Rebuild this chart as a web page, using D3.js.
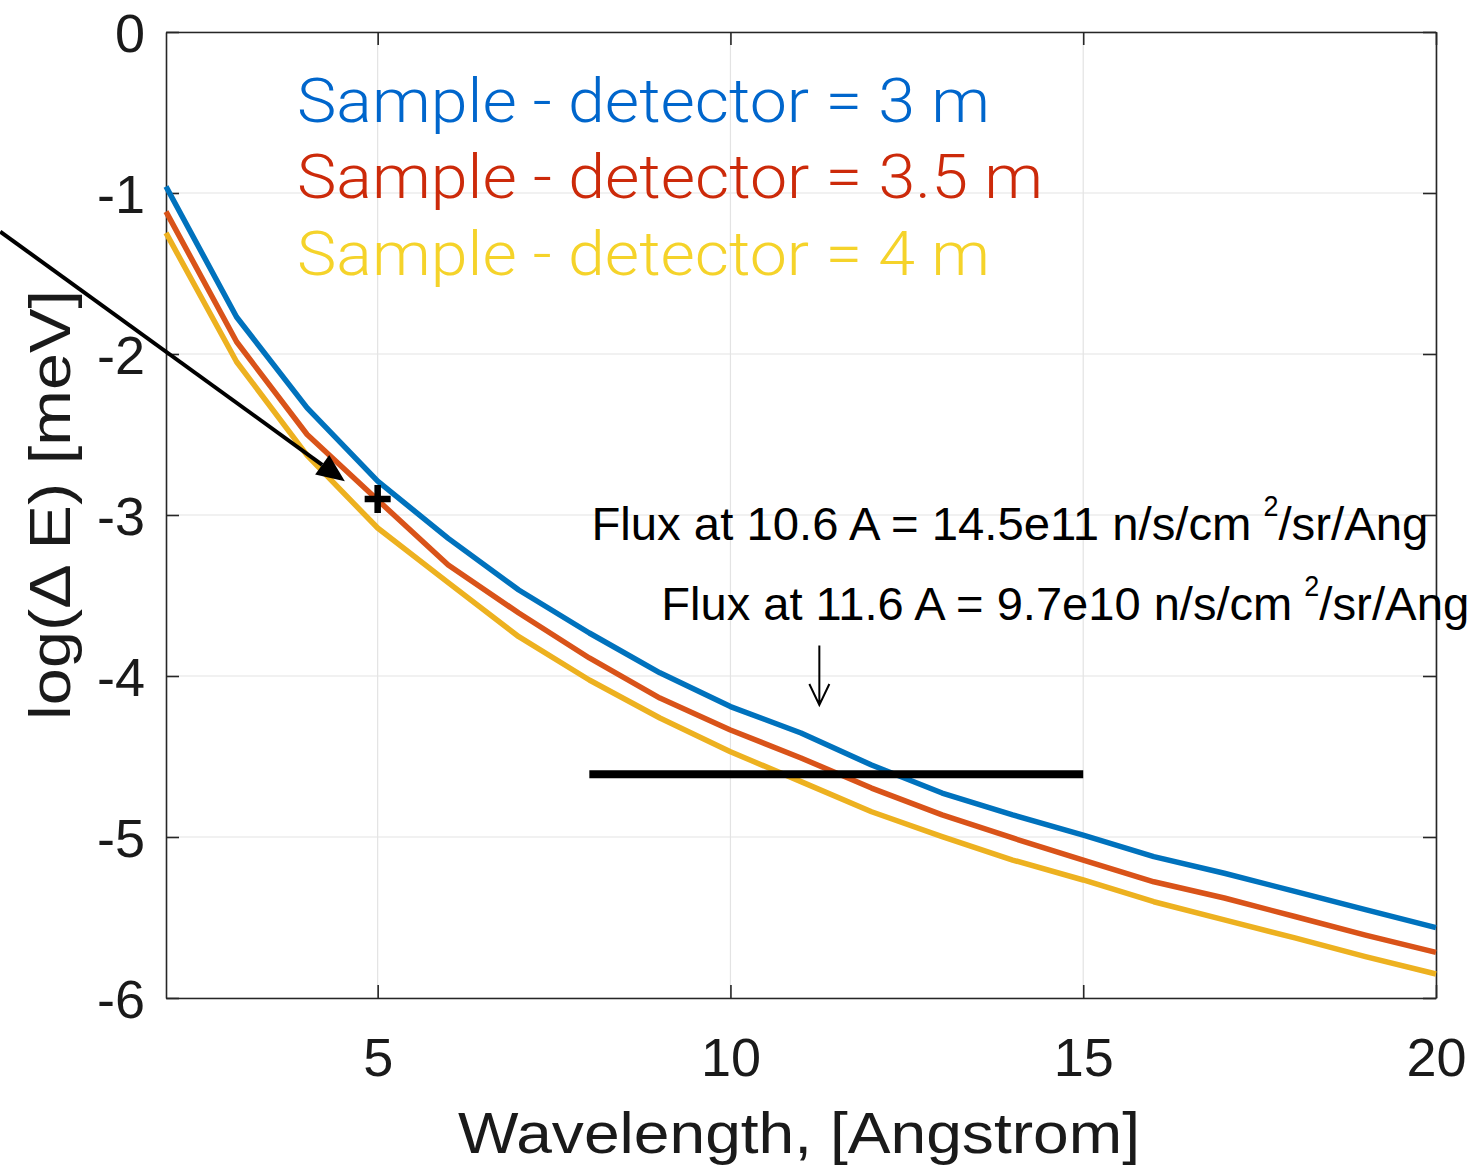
<!DOCTYPE html>
<html>
<head>
<meta charset="utf-8">
<script src="https://d3js.org/d3.v7.min.js"></script>
<style>
  html, body { margin: 0; padding: 0; background: #fff; }
  svg text { font-family: "Liberation Sans", Arial, sans-serif; }
</style>
</head>
<body>
<div id="chart"></div>
<script>
// wavelength (Angstrom)
const wavelengths = [2, 3, 4, 5, 6, 7, 8, 9, 10, 11, 12, 13, 14, 15, 16, 17, 18, 19, 20];
// log(dE) for each sample-detector distance
const dE3m = [-0.96, -1.77, -2.335, -2.79, -3.145, -3.466, -3.733, -3.98, -4.19, -4.354, -4.553, -4.727, -4.863, -4.988, -5.122, -5.225, -5.338, -5.451, -5.563];
const dE35m = [-1.116, -1.924, -2.50, -2.907, -3.31, -3.609, -3.888, -4.137, -4.335, -4.509, -4.696, -4.863, -5.006, -5.143, -5.278, -5.379, -5.494, -5.610, -5.717];
const dE4m = [-1.248, -2.048, -2.63, -3.081, -3.42, -3.756, -4.025, -4.261, -4.47, -4.656, -4.843, -4.998, -5.143, -5.267, -5.402, -5.515, -5.627, -5.743, -5.851];

const seriesNames = ['Sample - detector = 3 m', 'Sample - detector = 3.5 m', 'Sample - detector = 4 m'];
const xTicks = [5, 10, 15, 20];
const yTicks = [0, -1, -2, -3, -4, -5, -6];

// annotations in data units
const barX = [8, 15];
const barY = -4.61;
const plusPoint = [5, -2.9];
const arrowFrom = [-0.35, -1.24];
const arrowTo = [4.535, -2.79];
const downArrowX = 11.26;
const downArrowY = [-3.81, -4.18];

const width = 1479, height = 1168;
const margin = { left: 166, right: 43, top: 32, bottom: 170 };

const svg = d3.select('#chart').append('svg')
  .attr('width', width)
  .attr('height', height);

const x = d3.scaleLinear().domain([2, 20]).range([margin.left, width - margin.right]);
const y = d3.scaleLinear().domain([-6, 0]).range([height - margin.bottom, margin.top]);

const lineColors = ['#0072BD', '#D95319', '#EDB120'];
const textColors = ['#0066CC', '#CC2A0A', '#F5D32A'];

// Grid
svg.append('g')
  .selectAll('line.gx')
  .data(xTicks)
  .enter().append('line')
  .attr('x1', d => x(d)).attr('x2', d => x(d))
  .attr('y1', y(0)).attr('y2', y(-6))
  .attr('stroke', '#e3e3e3').attr('stroke-width', 1.2);

svg.append('g')
  .selectAll('line.gy')
  .data(yTicks)
  .enter().append('line')
  .attr('x1', x(2)).attr('x2', x(20))
  .attr('y1', d => y(d)).attr('y2', d => y(d))
  .attr('stroke', '#e3e3e3').attr('stroke-width', 1.2);

// Axes (ticks inside, box all round)
const tickLen = 13;
const axColor = '#262626';
const fmt = d => String(d);

const axBottom = svg.append('g')
  .attr('transform', `translate(0,${y(-6)})`)
  .call(d3.axisBottom(x).tickValues(xTicks).tickFormat(fmt).tickSizeInner(-tickLen).tickSizeOuter(0).tickPadding(40));
const axTop = svg.append('g')
  .attr('transform', `translate(0,${y(0)})`)
  .call(d3.axisTop(x).tickValues(xTicks).tickSizeInner(-tickLen).tickSizeOuter(0).tickFormat(''));
const axLeft = svg.append('g')
  .attr('transform', `translate(${x(2)},0)`)
  .call(d3.axisLeft(y).tickValues(yTicks).tickFormat(fmt).tickSizeInner(-tickLen).tickSizeOuter(0).tickPadding(21));
const axRight = svg.append('g')
  .attr('transform', `translate(${x(20)},0)`)
  .call(d3.axisRight(y).tickValues(yTicks).tickSizeInner(-tickLen).tickSizeOuter(0).tickFormat(''));

[axBottom, axTop, axLeft, axRight].forEach(g => {
  g.select('.domain').attr('stroke', axColor).attr('stroke-width', 1.6);
  g.selectAll('.tick line').attr('stroke', axColor).attr('stroke-width', 1.6);
  g.selectAll('.tick text')
    .attr('fill', '#1a1a1a')
    .style('font-family', '"Liberation Sans", Arial, sans-serif')
    .style('font-size', '54px');
});
axBottom.selectAll('.tick text').attr('dy', '0.71em');
axLeft.selectAll('.tick text').attr('dy', '0.36em');

// Curves
const allSeries = [dE3m, dE35m, dE4m];
const line = d3.line().x((d, i) => x(wavelengths[i])).y(d => y(d));

svg.append('g')
  .selectAll('path.curve')
  .data(allSeries)
  .enter().append('path')
  .attr('d', d => line(d))
  .attr('fill', 'none')
  .attr('stroke', (d, i) => lineColors[i])
  .attr('stroke-width', 5.5)
  .attr('stroke-linejoin', 'round');

// Horizontal bar
svg.append('line')
  .attr('x1', x(barX[0])).attr('x2', x(barX[1]))
  .attr('y1', y(barY)).attr('y2', y(barY))
  .attr('stroke', '#000').attr('stroke-width', 8);

// Plus marker
const px = x(plusPoint[0]), py = y(plusPoint[1]);
svg.append('path')
  .attr('d', `M${px - 13},${py}H${px + 13}M${px},${py - 14}V${py + 14}`)
  .attr('stroke', '#000').attr('stroke-width', 6.5).attr('fill', 'none');

// Long arrow with filled head
const ax0 = x(arrowFrom[0]), ay0 = y(arrowFrom[1]);
const ax1 = x(arrowTo[0]), ay1 = y(arrowTo[1]);
const ang = Math.atan2(ay1 - ay0, ax1 - ax0);
const headL = 28, headW = 12;
const bx = ax1 - headL * Math.cos(ang), by = ay1 - headL * Math.sin(ang);
svg.append('line')
  .attr('x1', ax0).attr('y1', ay0).attr('x2', bx).attr('y2', by)
  .attr('stroke', '#000').attr('stroke-width', 4);
svg.append('path')
  .attr('d', `M${ax1},${ay1}L${bx + headW * Math.sin(ang)},${by - headW * Math.cos(ang)}L${bx - headW * Math.sin(ang)},${by + headW * Math.cos(ang)}Z`)
  .attr('fill', '#000');

// Small down arrow (open head)
const dx = x(downArrowX), dy0 = y(downArrowY[0]), dy1 = y(downArrowY[1]);
svg.append('path')
  .attr('d', `M${dx},${dy0}V${dy1}M${dx - 10},${dy1 - 21}L${dx},${dy1}L${dx + 10},${dy1 - 21}`)
  .attr('stroke', '#000').attr('stroke-width', 2).attr('fill', 'none');

// Legend-like text
const legendTop = [122, 198, 275];
const legendW = [693, 746, 693];
svg.append('g')
  .selectAll('text')
  .data(seriesNames)
  .enter().append('text')
  .attr('x', 297)
  .attr('y', (d, i) => legendTop[i])
  .attr('fill', (d, i) => textColors[i])
  .attr('textLength', (d, i) => legendW[i])
  .attr('lengthAdjust', 'spacingAndGlyphs')
  .style('font-family', 'Roboto, "Liberation Sans", sans-serif')
  .style('font-weight', 300)
  .style('font-size', '62px')
  .text(d => d);

// Flux annotations
const fluxNotes = [
  { x: 8.03, y: -3.155, pre: 'Flux at 10.6 A = 14.5e11 n/s/cm', preW: 660, post: '/sr/Ang', postW: 150 },
  { x: 9.02, y: -3.65, pre: 'Flux at 11.6 A = 9.7e10 n/s/cm', preW: 631, post: '/sr/Ang', postW: 150 }
];
fluxNotes.forEach(n => {
  const tx = x(n.x), ty = y(n.y);
  const g = svg.append('g').style('font-family', '"Liberation Sans Narrow", "Liberation Sans", sans-serif').attr('fill', '#000');
  g.append('text').attr('x', tx).attr('y', ty)
    .attr('textLength', n.preW).attr('lengthAdjust', 'spacingAndGlyphs')
    .style('font-size', '46px').text(n.pre);
  g.append('text').attr('x', tx + n.preW + 12).attr('y', ty - 24)
    .attr('textLength', 15).attr('lengthAdjust', 'spacingAndGlyphs')
    .style('font-size', '30px').text('2');
  g.append('text').attr('x', tx + n.preW + 27).attr('y', ty)
    .attr('textLength', n.postW).attr('lengthAdjust', 'spacingAndGlyphs')
    .style('font-size', '46px').text(n.post);
});

// Axis labels
svg.append('text')
  .attr('x', 458).attr('y', 1153)
  .attr('textLength', 682).attr('lengthAdjust', 'spacingAndGlyphs')
  .attr('fill', '#1a1a1a')
  .style('font-size', '58px')
  .text('Wavelength, [Angstrom]');

svg.append('text')
  .attr('transform', 'translate(70,720) rotate(-90)')
  .attr('x', 0).attr('y', 0)
  .attr('textLength', 430).attr('lengthAdjust', 'spacingAndGlyphs')
  .attr('fill', '#1a1a1a')
  .style('font-size', '58px')
  .text('log(Δ E) [meV]');
</script>
</body>
</html>
